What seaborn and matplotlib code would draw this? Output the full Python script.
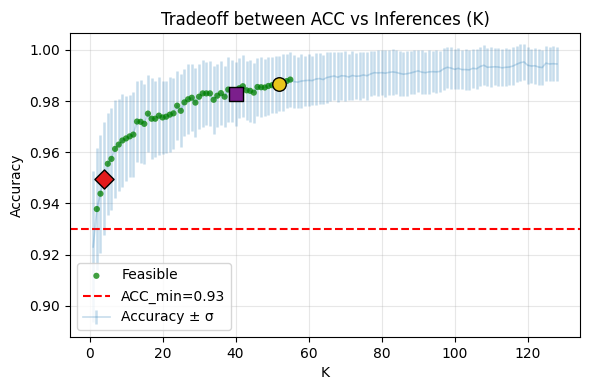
import numpy as np
import pandas as pd
import matplotlib
matplotlib.use("Agg")
import matplotlib.pyplot as plt
import seaborn as sns

K = list(range(1, 129))
acc_mean = [
    0.9230, 0.9378, 0.9438, 0.9497, 0.9555, 0.9574, 0.9613, 0.9630, 0.9646, 0.9654,
    0.9662, 0.9669, 0.9720, 0.9719, 0.9711, 0.9751, 0.9731, 0.9731, 0.9743, 0.9736,
    0.9739, 0.9747, 0.9752, 0.9782, 0.9762, 0.9795, 0.9807, 0.9813, 0.9794, 0.9817,
    0.9830, 0.9830, 0.9830, 0.9805, 0.9821, 0.9831, 0.9817, 0.9845, 0.9840, 0.9829,
    0.9850, 0.9858, 0.9842, 0.9840, 0.9833, 0.9855, 0.9854, 0.9853, 0.9859, 0.9862,
    0.9864, 0.9868, 0.9872, 0.9878, 0.9884, 0.9876, 0.9874, 0.9878, 0.9880, 0.9881,
    0.9880, 0.9886, 0.9888, 0.9884, 0.9892, 0.9895, 0.9898, 0.9893, 0.9899, 0.9898,
    0.9894, 0.9900, 0.9897, 0.9898, 0.9902, 0.9899, 0.9906, 0.9911, 0.9910, 0.9911,
    0.9909, 0.9912, 0.9914, 0.9912, 0.9908, 0.9905, 0.9907, 0.9910, 0.9914, 0.9918,
    0.9913, 0.9911, 0.9914, 0.9915, 0.9914, 0.9916, 0.9926, 0.9932, 0.9929, 0.9924,
    0.9928, 0.9923, 0.9923, 0.9922, 0.9928, 0.9926, 0.9935, 0.9940, 0.9932, 0.9933,
    0.9934, 0.9933, 0.9930, 0.9932, 0.9933, 0.9937, 0.9944, 0.9950, 0.9953, 0.9940,
    0.9937, 0.9938, 0.9933, 0.9931, 0.9948, 0.9945, 0.9946, 0.9945,
]
acc_sigma = [
    0.0295, 0.0240, 0.0230, 0.0220, 0.0200, 0.0200, 0.0190, 0.0180, 0.0180, 0.0165,
    0.0160, 0.0165, 0.0158, 0.0162, 0.0155, 0.0150, 0.0158, 0.0148, 0.0152, 0.0144,
    0.0140, 0.0146, 0.0138, 0.0135, 0.0142, 0.0132, 0.0136, 0.0130, 0.0134, 0.0127,
    0.0130, 0.0124, 0.0128, 0.0132, 0.0122, 0.0126, 0.0120, 0.0127, 0.0121, 0.0125,
    0.0118, 0.0122, 0.0115, 0.0120, 0.0117, 0.0112, 0.0118, 0.0110, 0.0114, 0.0109,
    0.0112, 0.0108, 0.0111, 0.0106, 0.0108, 0.0104, 0.0100, 0.0106, 0.0098, 0.0102,
    0.0097, 0.0103, 0.0099, 0.0095, 0.0100, 0.0096, 0.0092, 0.0098, 0.0094, 0.0097,
    0.0091, 0.0095, 0.0090, 0.0094, 0.0089, 0.0093, 0.0088, 0.0086, 0.0091, 0.0089,
    0.0092, 0.0087, 0.0090, 0.0086, 0.0089, 0.0085, 0.0088, 0.0084, 0.0087, 0.0083,
    0.0086, 0.0082, 0.0085, 0.0081, 0.0084, 0.0080, 0.0083, 0.0079, 0.0082, 0.0078,
    0.0081, 0.0077, 0.0080, 0.0078, 0.0076, 0.0079, 0.0075, 0.0078, 0.0074, 0.0077,
    0.0073, 0.0076, 0.0072, 0.0075, 0.0071, 0.0074, 0.0070, 0.0073, 0.0069, 0.0072,
    0.0068, 0.0071, 0.0070, 0.0067, 0.0069, 0.0066, 0.0068, 0.0065,
]
feasible_K = list(range(2, 56))
acc_min = 0.93
highlight_K = [4, 40, 52]
highlight_markers = ["D", "s", "o"]
highlight_colors = ["#e41a1c", "#7b1f8c", "#e8c51a"]

df = pd.DataFrame({"K": K, "acc": acc_mean, "sigma": acc_sigma})
feas = df[df["K"].isin(feasible_K)]

fig, ax = plt.subplots(figsize=(5.9, 3.9), dpi=100)

ax.errorbar(df["K"], df["acc"], yerr=df["sigma"], color="C0", alpha=0.25,
            elinewidth=1.8, linewidth=1.2, label="Accuracy \u00b1 \u03c3", zorder=2)
sns.scatterplot(data=feas, x="K", y="acc", color="green", alpha=0.75, s=20,
                edgecolor="none", label="Feasible", ax=ax, zorder=3)
ax.axhline(acc_min, color="red", linestyle="--", linewidth=1.5,
           label=f"ACC_min={acc_min}")

for k, m, c in zip(highlight_K, highlight_markers, highlight_colors):
    row = df[df["K"] == k]
    sns.scatterplot(data=row, x="K", y="acc", marker=m, color=c, s=95,
                    edgecolor="black", linewidth=1.0, ax=ax, zorder=5,
                    legend=False)

ax.set_ylim(0.8878, 1.0066)
ax.set_xlim(-5.35, 134.35)
ax.set_xticks([0, 20, 40, 60, 80, 100, 120])
ax.grid(True, alpha=0.3)
ax.set_xlabel("K")
ax.set_ylabel("Accuracy")
ax.set_title("Tradeoff between ACC vs Inferences (K)")

handles, labels = ax.get_legend_handles_labels()
order = [labels.index("Feasible"), labels.index(f"ACC_min={acc_min}"),
         labels.index("Accuracy \u00b1 \u03c3")]
ax.legend([handles[i] for i in order], [labels[i] for i in order], loc="lower left")

fig.subplots_adjust(left=70 / 590, right=580 / 590, top=1 - 33 / 390, bottom=1 - 337 / 390)
fig.savefig("out.png", dpi=100)
